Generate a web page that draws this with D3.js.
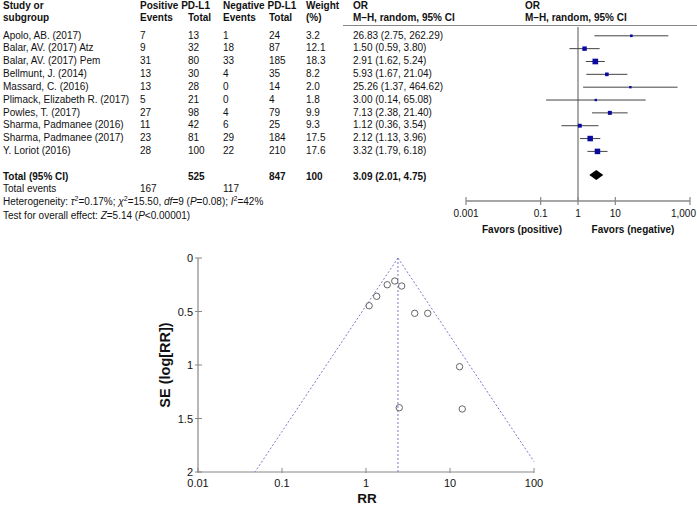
<!DOCTYPE html>
<html><head><meta charset="utf-8">
<script src="https://cdn.jsdelivr.net/npm/d3@7"></script>
<style>body{margin:0;background:#fff}svg{display:block;font-family:"Liberation Sans",Arial,sans-serif}</style>
</head><body>
<script>
const studies = ["Apolo, AB. (2017)","Balar, AV. (2017) Atz","Balar, AV. (2017) Pem","Bellmunt, J. (2014)","Massard, C. (2016)","Plimack, Elizabeth R. (2017)","Powles, T. (2017)","Sharma, Padmanee (2016)","Sharma, Padmanee (2017)","Y. Loriot (2016)"];
const posEvents = [7,9,31,13,13,5,27,11,23,28];
const posTotal = [13,32,80,30,28,21,98,42,81,100];
const negEvents = [1,18,33,4,0,0,4,6,29,22];
const negTotal = [24,87,185,35,14,4,79,25,184,210];
const weights = [3.2,12.1,18.3,8.2,2.0,1.8,9.9,9.3,17.5,17.6];
const orVal = [26.83,1.50,2.91,5.93,25.26,3.00,7.13,1.12,2.12,3.32];
const orLo = [2.75,0.59,1.62,1.67,1.37,0.14,2.38,0.36,1.13,1.79];
const orHi = [262.29,3.80,5.24,21.04,464.62,65.08,21.40,3.54,3.96,6.18];
const totalRow = {pos:525, neg:847, weight:100, or:3.09, lo:2.01, hi:4.75, posEv:167, negEv:117};
const forestTicks = [0.001,0.1,1,10,1000];
const forestTickLabels = ["0.001","0.1","1","10","1,000"];

// funnel data
const funnelRR = [1.09,1.34,1.79,2.20,2.66,3.80,5.43,13.0,2.49,14.0];
const funnelSE = [0.446,0.358,0.25,0.215,0.262,0.517,0.517,1.016,1.399,1.411];
const pooledRR = 2.40;
const funnelXTicks = [0.01,0.1,1,10,100];
const funnelXTickLabels = ["0.01","0.1","1","10","100"];
const funnelYTicks = [0,0.5,1,1.5,2];
const funnelYTickLabels = ["0","0.5","1","1.5","2"];

const W=697,H=507;
const svg=d3.select("body").append("svg").attr("width",W).attr("height",H);
const fs=10;
function txt(x,y,s,opt={}){
  return svg.append("text").attr("x",x).attr("y",y).text(s)
    .attr("font-size",opt.size||fs).attr("font-weight",opt.bold?"bold":"normal")
    .attr("text-anchor",opt.anchor||"start").attr("fill","#111");
}
// headers
const hy1=9, hy2=20.5;
txt(3,hy1,"Study or",{bold:1}); txt(3,hy2,"subgroup",{bold:1});
txt(140,hy1,"Positive PD-L1",{bold:1}); txt(140,hy2,"Events",{bold:1}); txt(188,hy2,"Total",{bold:1});
txt(223,hy1,"Negative PD-L1",{bold:1}); txt(223,hy2,"Events",{bold:1}); txt(269,hy2,"Total",{bold:1});
txt(306,hy1,"Weight",{bold:1}); txt(306,hy2,"(%)",{bold:1});
txt(353,hy1,"OR",{bold:1}); txt(353,hy2,"M–H, random, 95% CI",{bold:1});
txt(525,hy1,"OR",{bold:1}); txt(525,hy2,"M–H, random, 95% CI",{bold:1});
svg.append("line").attr("x1",343).attr("x2",697).attr("y1",25.5).attr("y2",25.5).attr("stroke","#888").attr("stroke-width",1);

const rowY=d3.scaleLinear().domain([0,9]).range([35,150.6]);
const x=d3.scaleLog().domain([0.001,1000]).range([466,690]);
const fmt=d3.format(".2f");
studies.forEach((s,i)=>{
  const y=rowY(i), b=y+3.5;
  txt(3,b,s); txt(140,b,posEvents[i]); txt(188,b,posTotal[i]);
  txt(223,b,negEvents[i]); txt(269,b,negTotal[i]); txt(306,b,weights[i].toFixed(1));
  txt(353,b,`${fmt(orVal[i])} (${fmt(orLo[i])}, ${fmt(orHi[i])})`);
});
// vertical null line
svg.append("line").attr("x1",x(1)).attr("x2",x(1)).attr("y1",27).attr("y2",201).attr("stroke","#aaa").attr("stroke-width",2);
// CI lines & squares
studies.forEach((s,i)=>{
  const y=rowY(i)+0.8;
  svg.append("line").attr("x1",x(orLo[i])).attr("x2",x(orHi[i])).attr("y1",y).attr("y2",y).attr("stroke","#444").attr("stroke-width",1);
  const sz=2+weights[i]*0.2;
  svg.append("rect").attr("x",x(orVal[i])-sz/2).attr("y",y-sz/2).attr("width",sz).attr("height",sz).attr("fill","#0a0aa0");
});
// total
const ty=176;
txt(3,ty+3.5,"Total (95% CI)",{bold:1}); txt(188,ty+3.5,totalRow.pos,{bold:1}); txt(269,ty+3.5,totalRow.neg,{bold:1});
txt(306,ty+3.5,totalRow.weight,{bold:1});
txt(353,ty+3.5,`${fmt(totalRow.or)} (${fmt(totalRow.lo)}, ${fmt(totalRow.hi)})`,{bold:1});
svg.append("path").attr("d",`M${x(totalRow.lo)},${ty-1}L${x(totalRow.or)},${ty-6}L${x(totalRow.hi)},${ty-1}L${x(totalRow.or)},${ty+4}Z`).attr("fill","#000");
txt(3,191.5,"Total events"); txt(140,191.5,totalRow.posEv); txt(223,191.5,totalRow.negEv);
// heterogeneity
const het=svg.append("text").attr("x",3).attr("y",205).attr("font-size",fs).attr("fill","#111");
const parts=[["Heterogeneity: ",0],["τ",1],["2",2],["=0.17%; ",0],["χ",1],["2",2],["=15.50, ",0],["df",1],["=9 (",0],["P",1],["=0.08); ",0],["I",1],["2",2],["=42%",0]];
parts.forEach(([t,k],i)=>{
  const ts=het.append("tspan").text(t);
  if(k==1) ts.attr("font-style","italic");
  if(k==2) ts.attr("font-size",7).attr("dy",-4);
  if(i>0 && parts[i-1][1]==2) ts.attr("dy",4);
});
const tst=svg.append("text").attr("x",3).attr("y",218.5).attr("font-size",fs).attr("fill","#111");
[["Test for overall effect: ",0],["Z",1],["=5.14 (",0],["P",1],["<0.00001)",0]].forEach(([t,k])=>{
  const ts=tst.append("tspan").text(t); if(k) ts.attr("font-style","italic");
});
// forest axis
const fa=svg.append("g").attr("transform","translate(0,201)");
fa.append("line").attr("x1",x(0.001)).attr("x2",x(1000)).attr("stroke","#888").attr("stroke-width",1.5);
forestTicks.forEach((t,i)=>{
  fa.append("line").attr("x1",x(t)).attr("x2",x(t)).attr("y1",-4).attr("y2",4).attr("stroke","#888").attr("stroke-width",1.2);
  const last=i===forestTicks.length-1;
  fa.append("text").attr("x",last?696:x(t)).attr("y",15.5).attr("text-anchor",last?"end":"middle").attr("font-size",fs).attr("fill","#111").text(forestTickLabels[i]);
});
txt(522,232.5,"Favors (positive)",{bold:1,anchor:"middle"});
txt(633,232.5,"Favors (negative)",{bold:1,anchor:"middle"});

// ---------- funnel plot ----------
const fx=d3.scaleLog().domain([0.01,100]).range([198,534]);
const fy=d3.scaleLinear().domain([0,2]).range([258,472]);
const ax="#888";
svg.append("line").attr("x1",198).attr("x2",198).attr("y1",fy(0)).attr("y2",fy(2)).attr("stroke",ax).attr("stroke-width",1.2);
svg.append("line").attr("x1",fx(0.01)).attr("x2",fx(100)).attr("y1",fy(2)).attr("y2",fy(2)).attr("stroke",ax).attr("stroke-width",1.2);
funnelYTicks.forEach((t,i)=>{
  svg.append("line").attr("x1",195).attr("x2",202).attr("y1",fy(t)).attr("y2",fy(t)).attr("stroke",ax);
  svg.append("text").attr("x",193).attr("y",fy(t)+4).attr("text-anchor","end").attr("font-size",11).attr("fill","#111").text(funnelYTickLabels[i]);
});
funnelXTicks.forEach((t,i)=>{
  svg.append("line").attr("x1",fx(t)).attr("x2",fx(t)).attr("y1",fy(2)-4).attr("y2",fy(2)+1).attr("stroke",ax);
  svg.append("text").attr("x",fx(t)).attr("y",487).attr("text-anchor","middle").attr("font-size",11).attr("fill","#111").text(funnelXTickLabels[i]);
});
svg.append("text").attr("x",367).attr("y",503).attr("text-anchor","middle").attr("font-size",13.5).attr("font-weight","bold").attr("fill","#111").text("RR");
svg.append("text").attr("transform","translate(170,365) rotate(-90)").attr("text-anchor","middle").attr("font-size",14.5).attr("font-weight","bold").attr("fill","#111").text("SE (log[RR])");
// funnel lines
const dash="2,2", lc="#7a7acc";
svg.append("line").attr("x1",fx(pooledRR)).attr("x2",fx(pooledRR)).attr("y1",fy(0)).attr("y2",fy(2)).attr("stroke",lc).attr("stroke-dasharray",dash);
svg.append("line").attr("x1",fx(pooledRR)).attr("y1",fy(0)).attr("x2",fx(pooledRR*Math.exp(-1.96*2))).attr("y2",fy(2)).attr("stroke",lc).attr("stroke-dasharray",dash);
const seR=Math.log(100/pooledRR)/1.96;
svg.append("line").attr("x1",fx(pooledRR)).attr("y1",fy(0)).attr("x2",fx(100)).attr("y2",fy(seR)).attr("stroke",lc).attr("stroke-dasharray",dash);
funnelRR.forEach((r,i)=>{
  svg.append("circle").attr("cx",fx(r)).attr("cy",fy(funnelSE[i])).attr("r",3.2).attr("fill","none").attr("stroke","#666").attr("stroke-width",1);
});
</script>
</body></html>
